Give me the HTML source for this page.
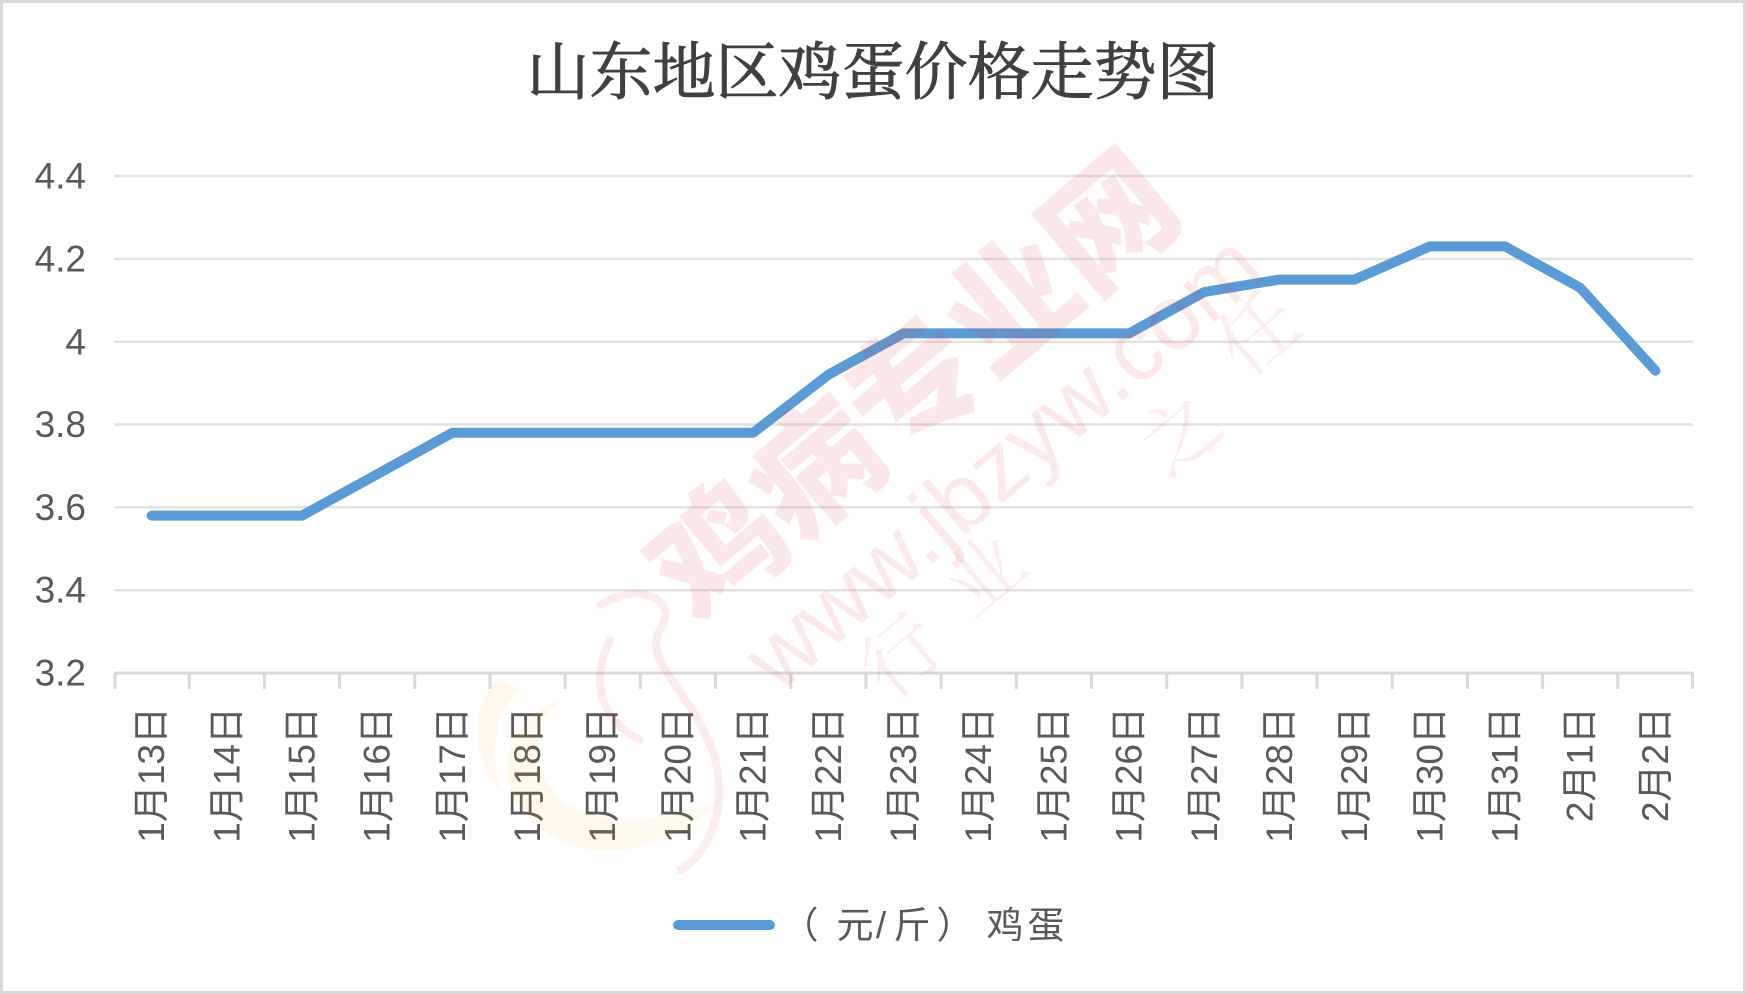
<!DOCTYPE html>
<html>
<head>
<meta charset="utf-8">
<style>
  html, body { margin: 0; padding: 0; background: #ffffff; }
  body { width: 1746px; height: 994px; overflow: hidden; }
  svg { display: block; }
  .lbl { font-family: "Liberation Sans", "Noto Sans CJK SC", sans-serif; fill: #595959; }
</style>
</head>
<body>
<svg width="1746" height="994" viewBox="0 0 1746 994" xmlns="http://www.w3.org/2000/svg">
  <!-- background & border -->
  <rect x="0" y="0" width="1746" height="994" fill="#ffffff"/>
  <rect x="1.5" y="1.5" width="1743" height="991" fill="none" stroke="#d9d9d9" stroke-width="3"/>

  <!-- title -->
  <text x="873" y="73" text-anchor="middle" dominant-baseline="central"
        font-family="'Liberation Serif', 'Noto Serif CJK SC', serif" font-weight="normal"
        font-size="63" fill="#404040" stroke="#404040" stroke-width="0.9">山东地区鸡蛋价格走势图</text>

  <!-- gridlines -->
  <g stroke="#e2e2e2" stroke-width="2.5">
    <line x1="114" y1="176" x2="1693" y2="176"/>
    <line x1="114" y1="259" x2="1693" y2="259"/>
    <line x1="114" y1="341.8" x2="1693" y2="341.8"/>
    <line x1="114" y1="424.5" x2="1693" y2="424.5"/>
    <line x1="114" y1="507.3" x2="1693" y2="507.3"/>
    <line x1="114" y1="590.2" x2="1693" y2="590.2"/>
  </g>

  <!-- x axis and ticks -->
  <g stroke="#d9d9d9" stroke-width="3">
    <line x1="114" y1="673" x2="1694" y2="673"/>
    <line x1="115" y1="673" x2="115" y2="689"/>
    <line x1="189.2" y1="673" x2="189.2" y2="689"/>
    <line x1="264.4" y1="673" x2="264.4" y2="689"/>
    <line x1="339.6" y1="673" x2="339.6" y2="689"/>
    <line x1="414.8" y1="673" x2="414.8" y2="689"/>
    <line x1="490.0" y1="673" x2="490.0" y2="689"/>
    <line x1="565.1" y1="673" x2="565.1" y2="689"/>
    <line x1="640.3" y1="673" x2="640.3" y2="689"/>
    <line x1="715.5" y1="673" x2="715.5" y2="689"/>
    <line x1="790.7" y1="673" x2="790.7" y2="689"/>
    <line x1="865.9" y1="673" x2="865.9" y2="689"/>
    <line x1="941.1" y1="673" x2="941.1" y2="689"/>
    <line x1="1016.3" y1="673" x2="1016.3" y2="689"/>
    <line x1="1091.5" y1="673" x2="1091.5" y2="689"/>
    <line x1="1166.7" y1="673" x2="1166.7" y2="689"/>
    <line x1="1241.9" y1="673" x2="1241.9" y2="689"/>
    <line x1="1317.0" y1="673" x2="1317.0" y2="689"/>
    <line x1="1392.2" y1="673" x2="1392.2" y2="689"/>
    <line x1="1467.4" y1="673" x2="1467.4" y2="689"/>
    <line x1="1542.6" y1="673" x2="1542.6" y2="689"/>
    <line x1="1617.8" y1="673" x2="1617.8" y2="689"/>
    <line x1="1692.5" y1="673" x2="1692.5" y2="689"/>
  </g>

  <!-- y labels -->
  <g class="lbl" font-size="37" text-anchor="end" dominant-baseline="central">
    <text x="86" y="176">4.4</text>
    <text x="86" y="259">4.2</text>
    <text x="86" y="341.8">4</text>
    <text x="86" y="424.5">3.8</text>
    <text x="86" y="507.3">3.6</text>
    <text x="86" y="590.2">3.4</text>
    <text x="86" y="673">3.2</text>
  </g>

  <!-- x labels (rotated) -->
  <g class="lbl" font-size="37" text-anchor="end" dominant-baseline="central">
    <text transform="translate(151.6,707) rotate(-90)">1月13日</text>
    <text transform="translate(226.8,707) rotate(-90)">1月14日</text>
    <text transform="translate(302.0,707) rotate(-90)">1月15日</text>
    <text transform="translate(377.2,707) rotate(-90)">1月16日</text>
    <text transform="translate(452.4,707) rotate(-90)">1月17日</text>
    <text transform="translate(527.5,707) rotate(-90)">1月18日</text>
    <text transform="translate(602.7,707) rotate(-90)">1月19日</text>
    <text transform="translate(677.9,707) rotate(-90)">1月20日</text>
    <text transform="translate(753.1,707) rotate(-90)">1月21日</text>
    <text transform="translate(828.3,707) rotate(-90)">1月22日</text>
    <text transform="translate(903.5,707) rotate(-90)">1月23日</text>
    <text transform="translate(978.7,707) rotate(-90)">1月24日</text>
    <text transform="translate(1053.9,707) rotate(-90)">1月25日</text>
    <text transform="translate(1129.1,707) rotate(-90)">1月26日</text>
    <text transform="translate(1204.3,707) rotate(-90)">1月27日</text>
    <text transform="translate(1279.4,707) rotate(-90)">1月28日</text>
    <text transform="translate(1354.6,707) rotate(-90)">1月29日</text>
    <text transform="translate(1429.8,707) rotate(-90)">1月30日</text>
    <text transform="translate(1505.0,707) rotate(-90)">1月31日</text>
    <text transform="translate(1580.2,707) rotate(-90)">2月1日</text>
    <text transform="translate(1655.4,707) rotate(-90)">2月2日</text>
  </g>

  <!-- data line -->
  <polyline fill="none" stroke="#5b9bd5" stroke-width="10" stroke-linecap="round" stroke-linejoin="round"
    points="151.6,515.6 226.8,515.6 302.0,515.6 377.2,474.2 452.4,432.8 527.5,432.8 602.7,432.8 677.9,432.8 753.1,432.8 828.3,374.8 903.5,333.4 978.7,333.4 1053.9,333.4 1129.1,333.4 1204.3,292.0 1279.4,279.6 1354.6,279.6 1429.8,246.4 1505.0,246.4 1580.2,287.8 1655.4,370.7"/>

  <!-- watermark -->
  <g opacity="0.07">
    <path d="M 560 700 C 500 720, 480 800, 560 840 C 620 870, 700 830, 720 800 C 680 820, 600 830, 560 800 C 530 770, 530 730, 560 700 Z" fill="#f5b800"/>
    <path d="M 500 680 C 470 700, 470 760, 500 790 C 490 750, 495 710, 520 690 Z" fill="#f5b800"/>
  </g>
  <g opacity="0.09" fill="none" stroke="#e03030" stroke-width="8" stroke-linecap="round">
    <path d="M 600 605 C 640 580, 680 600, 660 630 C 640 660, 700 700, 715 760 C 730 820, 700 860, 680 870"/>
    <path d="M 610 640 C 590 680, 600 720, 640 740"/>
  </g>
  <text transform="translate(915,388) rotate(-40)" text-anchor="middle" dominant-baseline="central"
        font-family="'Liberation Sans', 'Noto Sans CJK SC', sans-serif" font-weight="900" font-size="128"
        fill="#e83a3a" opacity="0.11">鸡病专业网</text>
  <text transform="translate(1003,462) rotate(-40.5)" text-anchor="middle" dominant-baseline="central"
        font-family="'Liberation Sans', sans-serif" font-size="92"
        fill="#e83a3a" opacity="0.10">www.jbzyw.com</text>
  <g font-family="'Liberation Serif', 'Noto Serif CJK SC', serif" font-size="78" fill="#e83a3a" opacity="0.09"
     text-anchor="middle" dominant-baseline="central">
    <text transform="translate(902,657) rotate(-40)">行</text>
    <text transform="translate(985,575) rotate(-40)">业</text>
    <text transform="translate(1181,434) rotate(-40)">之</text>
    <text transform="translate(1259,334) rotate(-40)">任</text>
  </g>

  <!-- legend -->
  <line x1="678" y1="925" x2="770" y2="925" stroke="#5b9bd5" stroke-width="10" stroke-linecap="round"/>
  <text class="lbl" font-size="37" y="925" dominant-baseline="central" text-anchor="middle"><tspan x="800">（</tspan><tspan x="855">元</tspan><tspan x="881">/</tspan><tspan x="912">斤</tspan><tspan x="955">）</tspan><tspan x="1005">鸡</tspan><tspan x="1046">蛋</tspan></text>
</svg>
</body>
</html>
